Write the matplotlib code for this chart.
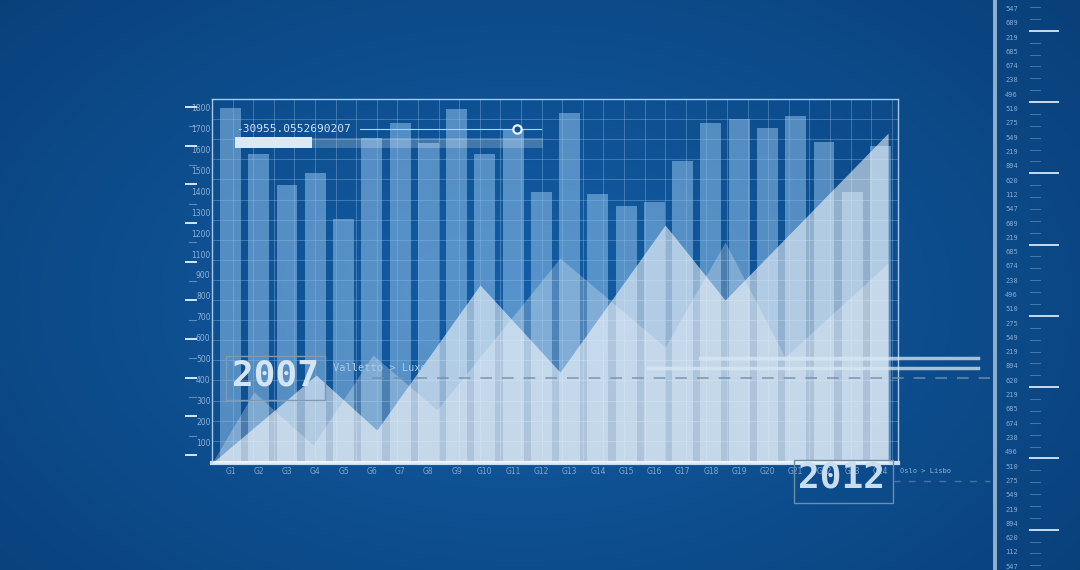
import numpy as np
import matplotlib
matplotlib.use("Agg")
import matplotlib.pyplot as plt
from matplotlib.patches import Rectangle
from matplotlib.lines import Line2D

W, H = 1080, 570

groups = [f"G{i}" for i in range(1, 25)]
bar_values = [1697, 1477, 1330, 1386, 1166, 1557, 1625, 1533, 1692, 1477, 1598, 1298,
              1673, 1287, 1231, 1247, 1445, 1625, 1646, 1604, 1660, 1534, 1298, 1517]

# two translucent area series (x in group units)
area_a_x = [-0.655, 3.03, 5.18, 8.83, 11.66, 15.38, 17.50, 23.27]
area_a_y = [0, 421, 158, 852, 435, 1139, 780, 1579]
area_b_x = [-0.655, 0.83, 2.92, 5.04, 7.31, 11.66, 15.38, 17.50, 19.62, 23.27]
area_b_y = [0, 340, 86, 517, 254, 981, 555, 1057, 507, 957]

y_tick_pos = [100 * i for i in range(1, 18)]
y_labels = ["100", "200", "300", "400", "500", "600", "700", "800", "900",
            "1100", "1200", "1300", "1400", "1500", "1600", "1700", "1800"]

ruler_labels = ["547", "689", "219", "685", "674", "238", "496", "510", "275", "549",
                "219", "894", "620", "112", "547", "689", "219", "685", "674", "238",
                "496", "510", "275", "549", "219", "894", "620", "219", "685", "674",
                "238", "496", "510", "275", "549", "219", "894", "620", "112", "547"]

value_text = "-30955.0552690207"
mono = "DejaVu Sans Mono"


def fx(px):
    return px / W


def fy(py):
    return 1 - py / H


def hline(x0, x1, y, **kw):
    fig.add_artist(Line2D([fx(x0), fx(x1)], [fy(y), fy(y)], transform=fig.transFigure, **kw))


def rect(x0, y0, x1, y1, **kw):
    fig.add_artist(Rectangle((fx(x0), fy(y1)), (x1 - x0) / W, (y1 - y0) / H,
                             transform=fig.transFigure, **kw))


fig = plt.figure(figsize=(10.8, 5.7), dpi=100)

# background gradient
bg = fig.add_axes([0, 0, 1, 1])
bg.axis("off")
yy, xx = np.mgrid[0:H, 0:W]
d = np.sqrt(((xx - 520) / 720) ** 2 + ((yy - 300) / 460) ** 2)
t = np.clip(d, 0, 1)[..., None]
c0 = np.array([19, 94, 166]) / 255
c1 = np.array([9, 64, 122]) / 255
bg.imshow(c0 * (1 - t) + c1 * t, extent=[0, 1, 0, 1], aspect="auto", origin="upper")
bg.set_xlim(0, 1)
bg.set_ylim(0, 1)

# main chart
ax = fig.add_axes([fx(212), fy(463), (898 - 212) / W, (463 - 99) / H])
ax.set_facecolor("none")
ax.set_xlim(-0.655, 23.62)
ax.set_ylim(0, 1742)

# blueprint grid
for f in np.arange(0, 1.0001, 20.6 / 686):
    ax.plot([f, f], [0, 1], transform=ax.transAxes, color="#9CC2E6", lw=0.7, alpha=0.35, zorder=1)
for f in np.arange(0, 1.0001, 20.1 / 364):
    ax.plot([0, 1], [1 - f, 1 - f], transform=ax.transAxes, color="#9CC2E6", lw=0.7, alpha=0.35, zorder=1)

x = np.arange(len(groups))
ax.bar(x, bar_values, width=0.74, color="#8FC0EA", alpha=0.55, lw=0, zorder=2)
ax.fill_between(area_a_x, area_a_y, color="white", alpha=0.55, lw=0, zorder=3)
ax.fill_between(area_b_x, area_b_y, color="white", alpha=0.25, lw=0, zorder=4)

for s in ["left", "top", "right"]:
    ax.spines[s].set_color("#A8C8E6")
    ax.spines[s].set_linewidth(1)
ax.spines["bottom"].set_color("#C4DCEF")
ax.spines["bottom"].set_linewidth(3)

ax.set_yticks(y_tick_pos)
ax.set_yticklabels(y_labels, fontsize=5.5, color="#8DB1D6")
ax.set_xticks(x)
ax.set_xticklabels(groups, fontsize=5.5, color="#7FA8D2")
ax.tick_params(axis="y", length=0, pad=1)
ax.tick_params(axis="x", length=0, pad=3)

# small axis marks
for k in range(19):
    py = 107 + k * 19.33
    if k % 2 == 0:
        hline(186, 196, py, color="#D6E6F4", lw=1.4)
    else:
        hline(189, 196, py, color="#7FA8D2", lw=0.8, alpha=0.7)

# overlay: value readout
fig.text(fx(236), fy(129), value_text, fontsize=8, family=mono, color="#D3E4F3", va="center")
hline(360, 541, 129, color="#B9D1E8", lw=0.8)
fig.add_artist(Line2D([fx(517)], [fy(129)], marker="o", markersize=6, mfc="#0D5093",
                      mec="#E8F1F8", mew=1.6, transform=fig.transFigure))
rect(235, 137, 312, 148, color="#DCE8F3", lw=0)
rect(312, 138, 543, 148, color="white", alpha=0.22, lw=0)

# 2007 marker
rect(226, 356, 325, 400, fill=False, ec="#7F9AB5", lw=1)
fig.text(fx(275), fy(376), "2007", fontsize=26, family=mono, weight="bold",
         color="#D4E4F2", ha="center", va="center")
fig.text(fx(333), fy(368), "Valletto > Luxe", fontsize=7.5, family=mono,
         color="#AECAE4", va="center")
hline(372, 990, 378, color="#7590AA", lw=1.2, dashes=(7, 6), alpha=0.85)

# 2012 marker
rect(794, 460, 893, 503, fill=False, ec="#6F8CA9", lw=1)
fig.text(fx(842), fy(478), "2012", fontsize=26, family=mono, weight="bold",
         color="#C9DDEF", ha="center", va="center")
fig.text(fx(900), fy(471), "Oslo > Lisbo", fontsize=5, family=mono,
         color="#8FB2D4", va="center")
hline(893, 990, 481, color="#557FA8", lw=1, dashes=(5, 6), alpha=0.8)

# bright horizontal guides
hline(700, 978, 358, color="#D8E8F5", lw=2.5, alpha=0.75)
hline(648, 978, 368, color="#D8E8F5", lw=2.5, alpha=0.75)

# right ruler
rect(993, 0, 997, 570, color="#8EADCA", lw=0)
for i, lab in enumerate(ruler_labels):
    fig.text(fx(1005), fy(9 + i * 14.3), lab, fontsize=5, family=mono,
             color="#86ABD2", va="center")
for j in range(48):
    py = 7 + j * 11.88
    if j % 6 == 2:
        hline(1030, 1058, py, color="#C8DCEE", lw=1.4)
    else:
        hline(1030, 1040, py, color="#6F98C2", lw=0.7, alpha=0.6)

fig.savefig("out.png", dpi=100)
